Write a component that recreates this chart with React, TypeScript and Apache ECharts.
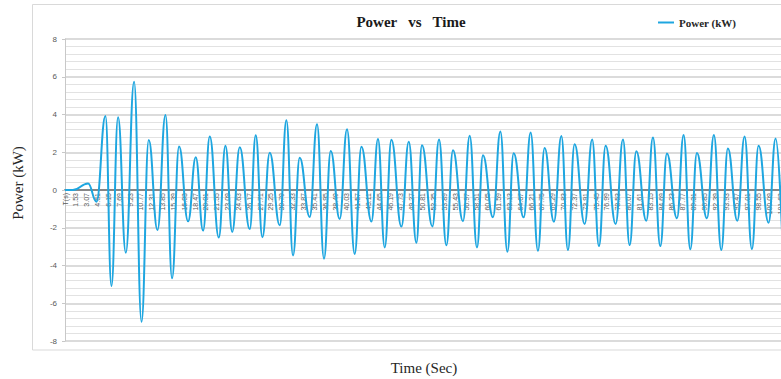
import React, { useEffect, useRef } from "react";
import * as echarts from "echarts";

// Time (s) of each turning point of the power trace
const timeSec = [
  0, 1.1, 3.27, 4.46, 5.74, 6.59, 7.53, 8.63, 9.81, 10.86, 11.89, 13.13, 14.27, 15.2, 16.2, 17.48,
  18.57, 19.61, 20.56, 21.84, 22.79, 23.75, 24.82, 26.24, 27.09, 28.04, 29.08, 30.5, 31.45, 32.39,
  33.34, 34.76, 35.8, 36.79, 37.75, 39.02, 40.06, 41.15, 42.11, 43.53, 44.46, 45.42, 46.37, 47.79,
  48.83, 49.92, 50.71, 52.19, 53.13, 54.18, 55.12, 56.54, 57.49, 58.53, 59.38, 60.8, 61.85, 62.85,
  63.74, 65.16, 66.15, 67.19, 68.14, 69.46, 70.52, 71.45, 72.4, 73.83, 74.89, 75.86, 76.81, 78.23,
  79.27, 80.22, 81.17, 82.59, 83.53, 84.58, 85.52, 86.94, 87.89, 88.84, 89.78, 91.2, 92.19, 93.24,
  94.18, 95.52, 96.55, 97.59, 98.54, 99.96, 100.96, 101.95,
];

// Power (kW) at those turning points
const powerKW = [
  0, 0, 0.35, -0.62, 3.92, -5.09, 3.85, -3.32, 5.74, -6.98, 2.65, -2.12, 3.98, -4.68, 2.3, -1.66,
  1.73, -2.15, 2.83, -2.52, 2.35, -2.22, 2.26, -2.07, 2.9, -2.5, 1.98, -1.87, 3.7, -3.47,
  1.71, -1.43, 3.49, -3.64, 2.07, -1.54, 3.22, -3.39, 2.29, -1.67, 2.7, -3.04, 2.66, -1.94,
  2.55, -2.79, 2.37, -1.93, 2.67, -2.93, 2.1, -1.65, 2.88, -3.04, 1.84, -1.44, 3.1, -3.27,
  1.95, -1.45, 3.05, -3.22, 2.22, -1.68, 2.86, -3.18, 2.43, -1.8, 2.68, -2.97, 2.35, -1.8,
  2.68, -2.92, 2.05, -1.63, 2.78, -2.97, 1.93, -1.5, 2.92, -3.14, 1.96, -1.5, 2.92, -3.18,
  2.2, -1.63, 2.84, -3.13, 2.34, -1.73, 2.73, -3.0,
];

// Axis label spacing (s) and the header row "T(s)" which sits one 0.01 s step before t = 0
const labelStep = 1.54;
const headerOffset = 0.01;
const headerLabel = "T(s)";
const labelCount = 68;

const seriesName = "Power (kW)";
const titleText = "Power   vs   Time";
const xName = "Time (Sec)";
const yName = "Power (kW)";

export default function App() {
  const ref = useRef<HTMLDivElement>(null);

  useEffect(() => {
    if (!ref.current) return;
    const chart = echarts.init(ref.current, null, { renderer: "svg" });
    const data = timeSec.map((t, i) => [t + headerOffset, powerKW[i]]);
    const serif = "'Liberation Serif', 'Times New Roman', serif";
    const gridTop = 39;
    const gridHeight = 302;
    chart.setOption({
      animation: false,
      backgroundColor: "#ffffff",
      grid: { left: 65, top: gridTop, width: 737, height: gridHeight, containLabel: false },
      legend: {
        left: 653,
        top: 12,
        itemWidth: 16,
        itemHeight: 2,
        data: [{ name: seriesName, icon: "rect" }],
        textStyle: { fontFamily: serif, fontWeight: "bold", fontSize: 11, color: "#262626" },
      },
      xAxis: {
        type: "value",
        min: 0,
        max: labelStep * labelCount,
        interval: labelStep,
        // axis sits on the y = 0 line (middle of the -8..8 range)
        offset: -gridHeight / 2,
        axisLine: { onZero: false, lineStyle: { color: "#868686", width: 2 } },
        axisTick: { show: false },
        splitLine: { show: false },
        axisLabel: {
          rotate: 90,
          margin: 3,
          fontSize: 7,
          fontFamily: "'Liberation Sans', Arial, sans-serif",
          color: "#595959",
          showMinLabel: true,
          showMaxLabel: true,
          formatter: (v: number) => (Math.abs(v) < 1e-9 ? headerLabel : (v - headerOffset).toFixed(2)),
        },
      },
      yAxis: {
        type: "value",
        min: -8,
        max: 8,
        interval: 2,
        axisLine: { show: true, onZero: false, lineStyle: { color: "#c8c8c8", width: 1 } },
        axisTick: { show: true, length: 3, lineStyle: { color: "#c8c8c8" } },
        axisLabel: {
          margin: 8,
          fontSize: 8,
          fontFamily: "'Liberation Sans', Arial, sans-serif",
          color: "#595959",
        },
        splitLine: { show: true, lineStyle: { color: "#cfcfcf", width: 1.5 } },
        minorTick: { show: false, splitNumber: 5 },
        minorSplitLine: { show: true, lineStyle: { color: "#e2e2e2", width: 1 } },
      },
      series: [
        {
          name: seriesName,
          type: "line",
          data,
          showSymbol: false,
          symbol: "none",
          smooth: 0.45,
          smoothMonotone: "x",
          lineStyle: { color: "#1ea6e0", width: 2 },
          itemStyle: { color: "#1ea6e0" },
        },
      ],
      graphic: [
        {
          type: "rect",
          z: -10,
          silent: true,
          shape: { x: 32.5, y: 4.5, width: 790, height: 345.5 },
          style: { fill: "none", stroke: "#d9d9d9", lineWidth: 1 },
        },
        {
          type: "text",
          x: 411,
          y: 22,
          style: {
            text: titleText,
            fontFamily: serif,
            fontWeight: "bold",
            fontSize: 15,
            fill: "#1a1a1a",
            textAlign: "center",
            textVerticalAlign: "middle",
          },
        },
        {
          type: "text",
          x: 18,
          y: 183,
          rotation: Math.PI / 2,
          style: {
            text: yName,
            fontFamily: serif,
            fontSize: 15,
            fill: "#262626",
            textAlign: "center",
            textVerticalAlign: "middle",
          },
        },
        {
          type: "text",
          x: 424,
          y: 368,
          style: {
            text: xName,
            fontFamily: serif,
            fontSize: 15,
            fill: "#262626",
            textAlign: "center",
            textVerticalAlign: "middle",
          },
        },
      ],
    });
    return () => chart.dispose();
  }, []);

  return (
    <div
      style={{
        position: "fixed",
        left: 0,
        top: 0,
        width: 781,
        height: 379,
        overflow: "hidden",
        background: "#ffffff",
      }}
    >
      <div ref={ref} style={{ width: 840, height: 379 }} />
    </div>
  );
}
